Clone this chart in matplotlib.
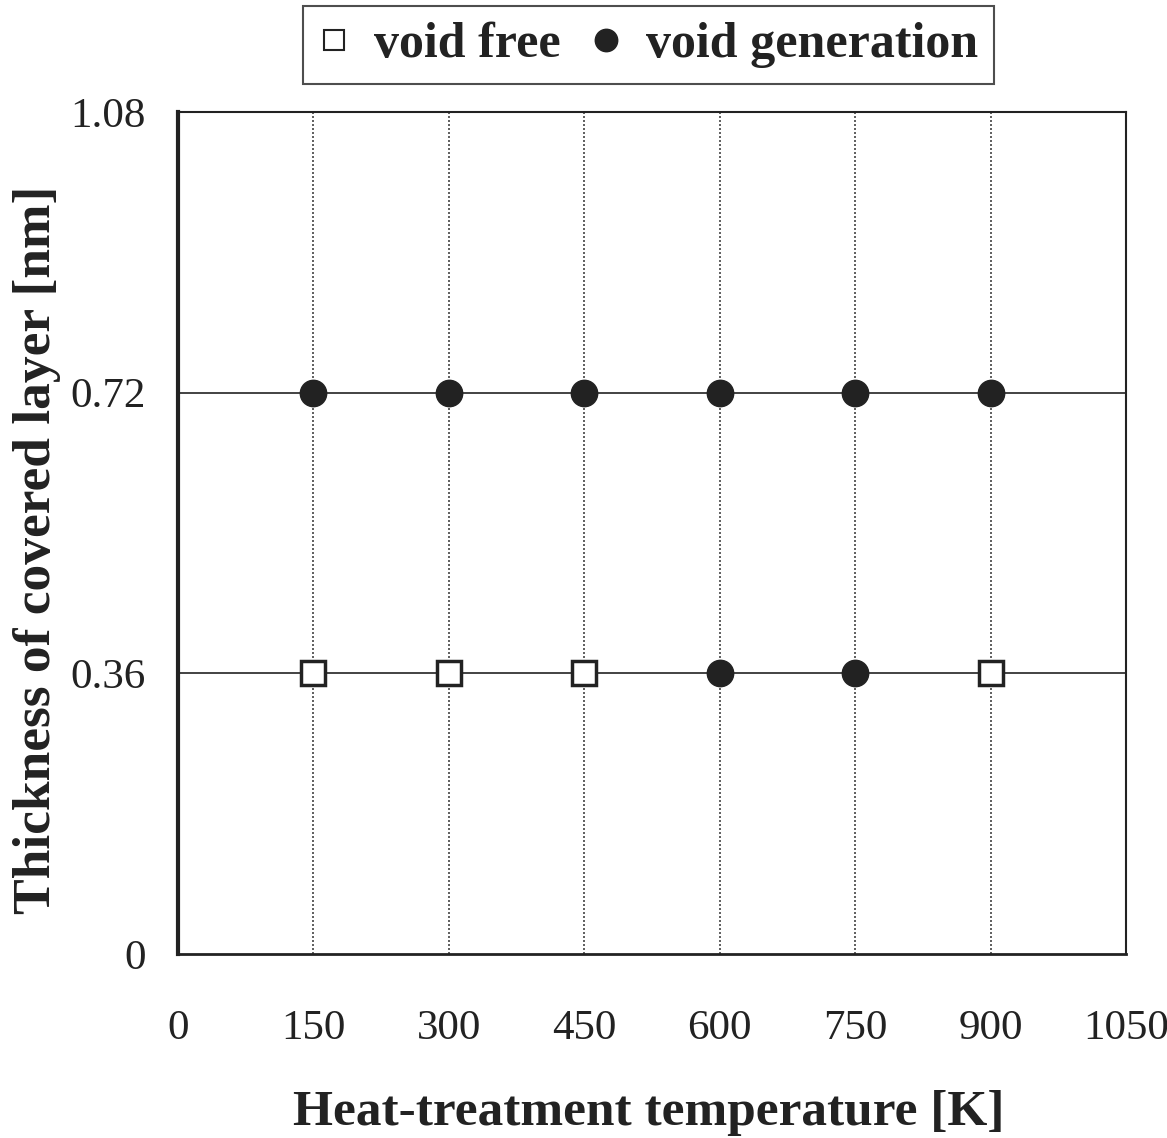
import matplotlib
matplotlib.use("Agg")
import matplotlib.pyplot as plt

free_x = [150, 300, 450, 900]
free_y = [0.36, 0.36, 0.36, 0.36]
gen_x = [150, 300, 450, 600, 750, 900, 600, 750]
gen_y = [0.72, 0.72, 0.72, 0.72, 0.72, 0.72, 0.36, 0.36]
xticks = [0, 150, 300, 450, 600, 750, 900, 1050]
yticks = [0, 0.36, 0.72, 1.08]
ytick_labels = ["0", "0.36", "0.72", "1.08"]

plt.rcParams['font.family'] = ['Liberation Serif', 'DejaVu Serif']

fig = plt.figure(figsize=(11.67, 11.38), dpi=100)
ax = fig.add_axes([0.1525, 0.1617, 0.8124, 0.7399])

ax.set_xlim(0, 1050)
ax.set_ylim(0, 1.08)
ax.set_xticks(xticks)
ax.set_yticks(yticks)
ax.set_yticklabels(ytick_labels)
ax.tick_params(axis='both', length=0, labelsize=31, colors='#222222')
ax.tick_params(axis='x', pad=40)
ax.tick_params(axis='y', pad=23)

for x in xticks[1:-1]:
    ax.axvline(x, color='#444444', lw=1.2, ls=(0, (1.2, 1.2)), zorder=1)
for y in yticks[1:-1]:
    ax.axhline(y, color='#222222', lw=1.2, zorder=1)

for side in ['top', 'right']:
    ax.spines[side].set_linewidth(1.5)
ax.spines['left'].set_linewidth(3)
ax.spines['bottom'].set_linewidth(2)
for s in ax.spines.values():
    s.set_color('#222222')

ax.plot(free_x, free_y, ls='none', marker='s', ms=17, mfc='white', mec='#222222', mew=2.5,
        zorder=3, label='void free')
ax.plot(gen_x, gen_y, ls='none', marker='o', ms=19, mfc='#222222', mec='#222222',
        zorder=3, label='void generation')

ax.set_xlabel('Heat-treatment temperature [K]', fontsize=37, fontweight='bold',
              color='#222222')
ax.set_ylabel('Thickness of covered layer [nm]', fontsize=38.5, fontweight='bold',
              color='#222222')
ax.xaxis.set_label_coords(0.497, -0.162)
ax.yaxis.set_label_coords(-0.123, 0.48)

leg = fig.legend(loc='upper center', bbox_to_anchor=(0.556, 0.9947), ncol=2, frameon=True,
                 fancybox=False, edgecolor='#222222', prop={'size': 36, 'weight': 'bold'},
                 handlelength=0.6, handletextpad=0.5, columnspacing=0.6, borderpad=0.32,
                 borderaxespad=0, markerscale=0.85)
leg.get_frame().set_linewidth(1.5)
leg.legend_handles[0].set_markeredgewidth(1.5)
for t in leg.get_texts():
    t.set_color('#222222')

fig.savefig('out.png', dpi=100)
